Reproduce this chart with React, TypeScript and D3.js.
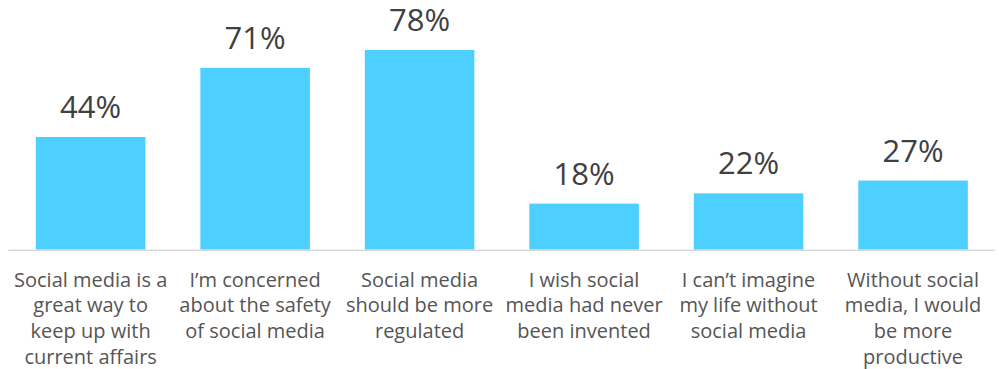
import React from "react";
import * as d3 from "d3";

const categories: string[][] = [
  ["Social media is a", "great way to", "keep up with", "current affairs"],
  ["I\u2019m concerned", "about the safety", "of social media"],
  ["Social media", "should be more", "regulated"],
  ["I wish social", "media had never", "been invented"],
  ["I can\u2019t imagine", "my life without", "social media"],
  ["Without social", "media, I would", "be more", "productive"],
];
const values: number[] = [44, 71, 78, 18, 22, 27];
const valueLabels: string[] = ["44%", "71%", "78%", "18%", "22%", "27%"];

const W = 999;
const H = 369;
const baseline = 249.7;
const FONT = "'Open Sans', sans-serif";

export default function App() {
  const ids = categories.map((_, i) => String(i));
  const x = d3.scaleBand<string>().domain(ids).range([8.4, 995.3]).paddingInner(0.334).paddingOuter(0.167);
  const y = d3.scaleLinear().domain([0, 97.5]).range([baseline, 0]);
  const bw = x.bandwidth();
  return (
    <svg
      width={W}
      height={H}
      style={{ position: "absolute", left: 0, top: 0, display: "block", background: "#fff" }}
    >
      {values.map((v, i) => (
        <rect key={"b" + i} x={x(ids[i])!} y={y(v)} width={bw} height={baseline - y(v)} fill="#4dcfff" />
      ))}
      <line x1={8.4} x2={995.3} y1={baseline + 0.5} y2={baseline + 0.5} stroke="#d9d9d9" strokeWidth={1.5} />
      {values.map((v, i) => (
        <text
          key={"v" + i}
          x={x(ids[i])! + bw / 2}
          y={y(v) - 19}
          textAnchor="middle"
          fontFamily={FONT}
          fontSize={31}
          fill="#404040"
        >
          {valueLabels[i]}
        </text>
      ))}
      {categories.map((lines, i) => (
        <text
          key={"c" + i}
          x={x(ids[i])! + bw / 2}
          y={286.5}
          textAnchor="middle"
          fontFamily={FONT}
          fontSize={20}
          fill="#555555"
        >
          {lines.map((l, j) => (
            <tspan key={j} x={x(ids[i])! + bw / 2} dy={j === 0 ? 0 : 25.8}>
              {l}
            </tspan>
          ))}
        </text>
      ))}
    </svg>
  );
}
